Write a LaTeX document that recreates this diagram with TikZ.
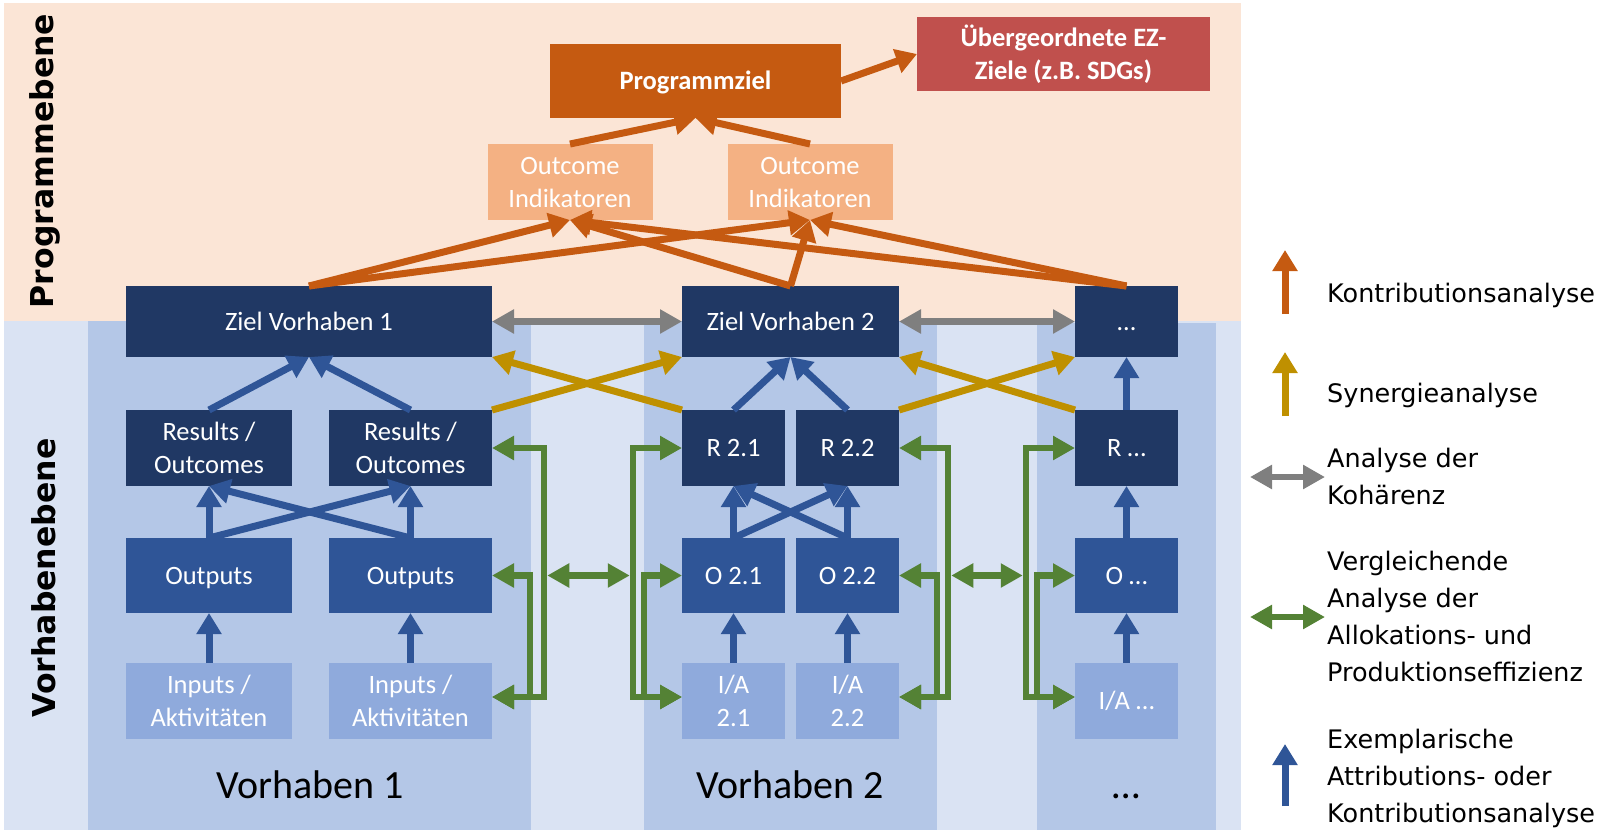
\documentclass[tikz,border=0pt]{standalone}
\usepackage{fontspec}
\setmainfont{Carlito}
\newfontfamily\legendfont{DejaVu Sans}
\usetikzlibrary{arrows.meta}

\definecolor{cPeach}{HTML}{FBE5D6}
\definecolor{cLightBlue}{HTML}{DAE3F3}
\definecolor{cMidBlue}{HTML}{B4C7E7}
\definecolor{cNavy}{HTML}{203864}
\definecolor{cOutBlue}{HTML}{2F5597}
\definecolor{cInBlue}{HTML}{8FAADC}
\definecolor{cOrange}{HTML}{C55A11}
\definecolor{cRed}{HTML}{C0504D}
\definecolor{cOutcome}{HTML}{F4B183}
\definecolor{cGold}{HTML}{BF9000}
\definecolor{cGray}{HTML}{7F7F7F}
\definecolor{cGreen}{HTML}{548235}

\begin{document}
\begin{tikzpicture}[x=1pt,y=-1pt,
  box/.style={inner sep=0pt, outer sep=0pt, align=center, text=white,
    font=\fontsize{26.5}{33}\selectfont},
  oneline/.style={text height=21.2pt, text depth=4.1pt},
  boldbox/.style={box, font=\bfseries\fontsize{26.5}{33}\selectfont},
  navybox/.style={box, fill=cNavy},
  outbox/.style={box, fill=cOutBlue},
  inbox/.style={box, fill=cInBlue},
  outcomebox/.style={box, fill=cOutcome, minimum width=165pt, minimum height=76pt},
  zielrow/.style={minimum height=71pt},
  resrow/.style={minimum height=76pt},
  outrow/.style={minimum height=75pt},
  inrow/.style={minimum height=76pt},
  arr/.style={line width=7pt, line join=miter,
    -{Triangle[length=21pt,width=24pt]}},
  dblarr/.style={line width=6.5pt, line join=miter,
    {Triangle[length=22pt,width=23pt]}-{Triangle[length=22pt,width=23pt]}},
  kontri/.style={arr, draw=cOrange},
  synergie/.style={arr, draw=cGold},
  attrib/.style={arr, draw=cOutBlue},
  kohaerenz/.style={dblarr, draw=cGray},
  effizienz/.style={dblarr, draw=cGreen},
  legendtext/.style={anchor=west, align=left, inner sep=0pt,
    font=\legendfont\fontsize{25.5}{37}\selectfont},
  levellabel/.style={rotate=90, inner sep=0pt,
    font=\legendfont\bfseries\fontsize{31.5}{38}\selectfont},
  vhlabel/.style={anchor=base, inner sep=0pt, font=\fontsize{40}{46}\selectfont}
]
\useasboundingbox (0,0) rectangle (1605,830);

% backgrounds: programme level, project level and project columns
\fill[cPeach] (4,3) rectangle (1241,321);
\fill[cLightBlue] (4,321) rectangle (1241,830);
\fill[cMidBlue] (88,321) rectangle (531,830);
\fill[cMidBlue] (644,321) rectangle (937,830);
\fill[cMidBlue] (1037,323) rectangle (1216,830);

% level labels
\node[levellabel] (lvlP) at (45,161) {Programmebene};
\node[levellabel] (lvlV) at (44,578) {Vorhabenebene};

% programme level
\node[boldbox, oneline, fill=cOrange, minimum width=291pt, minimum height=74pt] (pz) at (695.5,81) {Programmziel};
\node[boldbox, fill=cRed, minimum width=293pt, minimum height=74pt] (ue) at (1063.5,54) {Übergeordnete EZ-\\Ziele (z.B. SDGs)};
\node[outcomebox] (oi1) at (570,182) {Outcome\\Indikatoren};
\node[outcomebox] (oi2) at (810,182) {Outcome\\Indikatoren};

% project 1
\node[navybox, oneline, zielrow, minimum width=366pt] (z1) at (309,321.5) {Ziel Vorhaben 1};
\node[navybox, resrow, minimum width=166pt] (r1) at (209,448) {Results /\\Outcomes};
\node[navybox, resrow, minimum width=163pt] (r2) at (410.5,448) {Results /\\Outcomes};
\node[outbox, oneline, outrow, minimum width=166pt] (o1) at (209,575.5) {Outputs};
\node[outbox, oneline, outrow, minimum width=163pt] (o2) at (410.5,575.5) {Outputs};
\node[inbox, inrow, minimum width=166pt] (i1) at (209,701) {Inputs /\\Aktivitäten};
\node[inbox, inrow, minimum width=163pt] (i2) at (410.5,701) {Inputs /\\Aktivitäten};

% project 2
\node[navybox, oneline, zielrow, minimum width=217pt] (z2) at (790.5,321.5) {Ziel Vorhaben 2};
\node[navybox, oneline, resrow, minimum width=103pt] (r21) at (733.5,448) {R 2.1};
\node[navybox, oneline, resrow, minimum width=103pt] (r22) at (847.5,448) {R 2.2};
\node[outbox, oneline, outrow, minimum width=103pt] (o21) at (733.5,575.5) {O 2.1};
\node[outbox, oneline, outrow, minimum width=103pt] (o22) at (847.5,575.5) {O 2.2};
\node[inbox, inrow, minimum width=103pt] (i21) at (733.5,701) {I/A\\2.1};
\node[inbox, inrow, minimum width=103pt] (i22) at (847.5,701) {I/A\\2.2};

% further projects
\node[navybox, oneline, zielrow, minimum width=103pt] (z3) at (1126.5,321.5) {…};
\node[navybox, oneline, resrow, minimum width=103pt] (r3) at (1126.5,448) {R …};
\node[outbox, oneline, outrow, minimum width=103pt] (o3) at (1126.5,575.5) {O …};
\node[inbox, oneline, inrow, minimum width=103pt] (i3) at (1126.5,701) {I/A …};

% column captions
\node[vhlabel] (cap1) at (310,798) {Vorhaben 1};
\node[vhlabel] (cap2) at (790,798) {Vorhaben 2};
\node[vhlabel] (cap3) at (1126.5,798) {…};

% contribution analysis
\draw[kontri] (oi1.north) -- (pz.south);
\draw[kontri] (oi2.north) -- (pz.south);
\draw[kontri] (pz.east) -- (ue.west);
\draw[kontri] (z1.north) -- (oi2.south);
\draw[kontri] (z3.north) -- (oi1.south);
\draw[kontri] (z2.north) -- (oi1.south);
\draw[kontri] (z1.north) -- (oi1.south);
\draw[kontri] (z3.north) -- (oi2.south);
\draw[kontri] (z2.north) -- (oi2.south);

% coherence
\draw[kohaerenz] (z1.east) -- (z2.west);
\draw[kohaerenz] (z2.east) -- (z3.west);

% synergies
\draw[synergie] (r2.north east) -- (z2.south west);
\draw[synergie] (r21.north west) -- (z1.south east);
\draw[synergie] (r22.north east) -- (z3.south west);
\draw[synergie] (r3.north west) -- (z2.south east);

% attribution within the projects
\draw[attrib] (r1.north) -- (z1.south);
\draw[attrib] (r2.north) -- (z1.south);
\draw[attrib] (o1.north) -- (r1.south);
\draw[attrib] (o2.north) -- (r2.south);
\draw[attrib] (o1.north) -- (r2.south);
\draw[attrib] (o2.north) -- (r1.south);
\draw[attrib] (i1.north) -- (o1.south);
\draw[attrib] (i2.north) -- (o2.south);
\draw[attrib] (r21.north) -- (z2.south);
\draw[attrib] (r22.north) -- (z2.south);
\draw[attrib] (o21.north) -- (r21.south);
\draw[attrib] (o22.north) -- (r22.south);
\draw[attrib] (o21.north) -- (r22.south);
\draw[attrib] (o22.north) -- (r21.south);
\draw[attrib] (i21.north) -- (o21.south);
\draw[attrib] (i22.north) -- (o22.south);
\draw[attrib] (r3.north) -- (z3.south);
\draw[attrib] (o3.north) -- (r3.south);
\draw[attrib] (i3.north) -- (o3.south);

% allocation and production efficiency: bracket bars
\coordinate (b1o) at (544,697);
\coordinate (b1i) at (530,697);
\coordinate (b2o) at (633,697);
\coordinate (b2i) at (644,697);
\coordinate (b3o) at (948,697);
\coordinate (b3i) at (937,697);
\coordinate (b4o) at (1026,697);
\coordinate (b4i) at (1037,697);

\draw[effizienz] (o2.east) -| (b1i) -- (i2.east |- b1i);
\draw[effizienz] (r2.east) -| (b1o) -- (i2.east |- b1o);
\draw[effizienz] (o21.west) -| (b2i) -- (i21.west |- b2i);
\draw[effizienz] (r21.west) -| (b2o) -- (i21.west |- b2o);
\draw[effizienz] (o22.east) -| (b3i) -- (i22.east |- b3i);
\draw[effizienz] (r22.east) -| (b3o) -- (i22.east |- b3o);
\draw[effizienz] (o3.west) -| (b4i) -- (i3.west |- b4i);
\draw[effizienz] (r3.west) -| (b4o) -- (i3.west |- b4o);
\draw[effizienz] ([xshift=3.25pt]b1o |- o2.east) -- ([xshift=-3.25pt]b2o |- o21.west);
\draw[effizienz] ([xshift=3.25pt]b3o |- o22.east) -- ([xshift=-3.25pt]b4o |- o3.west);

% legend
\coordinate (lk1) at (1285,314); \coordinate (lk2) at (1285,250);
\coordinate (ls1) at (1285,416); \coordinate (ls2) at (1285,352);
\coordinate (lh1) at (1250,477); \coordinate (lh2) at (1325,477);
\coordinate (le1) at (1250,617); \coordinate (le2) at (1325,617);
\coordinate (la1) at (1285,806); \coordinate (la2) at (1285,744);
\draw[kontri] (lk1) -- (lk2);
\draw[synergie] (ls1) -- (ls2);
\draw[kohaerenz] (lh1) -- (lh2);
\draw[effizienz] (le1) -- (le2);
\draw[attrib] (la1) -- (la2);

\node[legendtext] (tk) at (1327,295) {Kontributionsanalyse};
\node[legendtext] (ts) at (1327,395) {Synergieanalyse};
\node[legendtext] (th) at (1327,476) {Analyse der\\Kohärenz};
\node[legendtext] (te) at (1327,616) {Vergleichende\\Analyse der\\Allokations- und\\Produktionseffizienz};
\node[legendtext] (ta) at (1327,778) {Exemplarische\\Attributions- oder\\Kontributionsanalyse};
\end{tikzpicture}
\end{document}
